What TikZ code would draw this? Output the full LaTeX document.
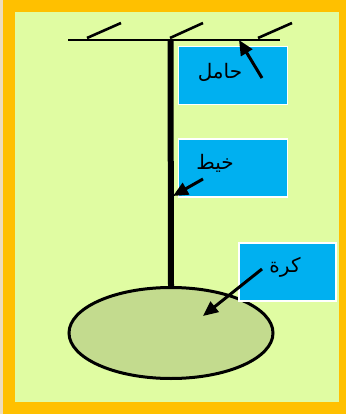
\documentclass[tikz,border=0pt]{standalone}
\usepackage{fontspec}
\usetikzlibrary{arrows.meta,shapes.geometric}
\TeXXeTstate=1
\newfontfamily\arabicfont[Script=Arabic]{DejaVu Sans}
\definecolor{frameorange}{HTML}{FFC000}
\definecolor{bggreen}{HTML}{E0FCA2}
\definecolor{ballgreen}{HTML}{C3DB8E}
\definecolor{labelblue}{HTML}{00B0F0}
\definecolor{edgebeige}{HTML}{EEDDBB}
\tikzset{
  labelbox/.style={draw=white, line width=1.5pt, fill=labelblue, minimum width=109pt, minimum height=58pt, inner sep=0pt},
  labeltext/.style={font=\arabicfont\fontsize{20}{22}\selectfont, inner sep=0pt},
  pointer/.style={line width=3pt, -{Triangle[length=15pt,width=13pt]}},
  hatch/.style={line width=2.6pt},
}
\begin{document}
\begin{tikzpicture}[x=1pt,y=-1pt]
\useasboundingbox (0,0) rectangle (346,414);
\fill[edgebeige] (0,0) rectangle (4,414);
\fill[frameorange] (3,0) rectangle (346,414);
\fill[bggreen] (15,12) rectangle (339,402);
% support
\coordinate (sL) at (68,40);
\coordinate (sR) at (280,40);
\draw[line width=2.4pt] (sL) -- (sR);
\coordinate (h1a) at (87,38); \coordinate (h1b) at (121,23);
\coordinate (h2a) at (170,38); \coordinate (h2b) at (203,23);
\coordinate (h3a) at (258,38); \coordinate (h3b) at (292,23);
\draw[hatch] (h1a) -- (h1b);
\draw[hatch] (h2a) -- (h2b);
\draw[hatch] (h3a) -- (h3b);
% ball
\node[ellipse, draw=black, line width=3pt, fill=ballgreen, minimum width=204pt, minimum height=91pt, inner sep=0pt] (ball) at (171,333) {};
% thread
\coordinate (top) at (170.5,40);
\draw[line width=6pt] (top) -- (ball.north);
% labels
\node[labelbox] (b1) at (233,75.5) {};
\node[labeltext] (t1) at (220,72) {\beginR حامل\endR};
\node[labelbox] (b2) at (233,168) {};
\node[labeltext] (t2) at (215,163) {\beginR خيط\endR};
\node[labelbox, minimum width=97pt] (b3) at (287.5,272) {};
\node[labeltext] (t3) at (285,267) {\beginR كرة\endR};
% arrows
\coordinate (a1s) at (262,78); \coordinate (a1e) at (239,40);
\coordinate (a2s) at (203,179); \coordinate (a2e) at (173,196);
\coordinate (a3s) at (262,269); \coordinate (a3e) at (203,316);
\draw[pointer] (a1s) -- (a1e);
\draw[pointer] (a2s) -- (a2e);
\draw[pointer] (a3s) -- (a3e);
\end{tikzpicture}
\end{document}
